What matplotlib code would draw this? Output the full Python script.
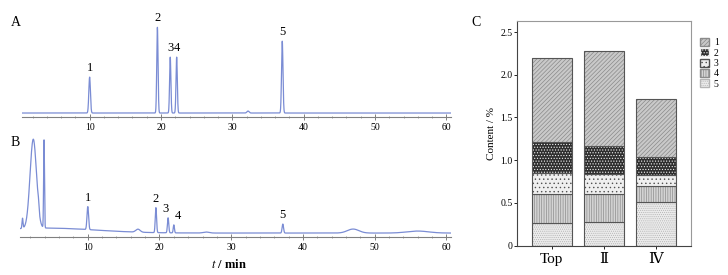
import numpy as np
import matplotlib
matplotlib.use("Agg")
import matplotlib.pyplot as plt
from matplotlib.patches import Patch

plt.rcParams["font.family"] = ["Liberation Serif", "DejaVu Serif"]
plt.rcParams["mathtext.fontset"] = "stix"
plt.rcParams["hatch.linewidth"] = 0.5

LINE = "#7a8cd4"
AXIS = "#808080"

# --- chromatogram A (standard mix): peak time (min), height, width (min)
A_TIMES = [10.0, 19.5, 21.3, 22.2, 32.2, 37.0]
A_HEIGHTS = [36, 86, 56, 56, 2, 72]
A_WIDTHS = [0.11, 0.09, 0.09, 0.09, 0.15, 0.10]
A_LABELS = ["1", "2", "3", "4", "", "5"]

# --- chromatogram B (sample)
B_TIMES = [0.9, 2.4, 3.1, 3.9, 10.0, 17.0, 19.5, 21.2, 22.0, 26.5, 37.2, 47.0, 56.0]
B_HEIGHTS = [10, 89, 6, 88, 23, 3, 25, 15, 8, 1, 9, 4, 2]
B_WIDTHS = [0.07, 0.45, 0.08, 0.06, 0.11, 0.3, 0.09, 0.09, 0.08, 0.4, 0.10, 0.8, 1.5]
B_LABELS = ["", "", "", "", "1", "", "2", "3", "4", "", "5", "", ""]
B_TAIL = (4.0, 7.0, 5.0)   # broad solvent tail: centre, width, height
B_OFFSET = 2.0

# --- panel C: content (%) of compounds 1-5 per sample
SAMPLES = ["Top", "Ⅱ", "Ⅳ"]
C5 = [0.27, 0.28, 0.51]
C4 = [0.33, 0.32, 0.19]
C3 = [0.25, 0.24, 0.13]
C2 = [0.36, 0.33, 0.21]
C1 = [0.98, 1.11, 0.68]


def trace(t, times, heights, widths):
    y = np.zeros_like(t)
    for t0, h, w in zip(times, heights, widths):
        y += h * np.exp(-0.5 * ((t - t0) / w) ** 2)
    return y


def chrom_axis(ax, ylim):
    ax.set_xlim(0.5, 60.6)
    ax.set_ylim(*ylim)
    for s in ["top", "right", "left"]:
        ax.spines[s].set_visible(False)
    ax.spines["bottom"].set_color(AXIS)
    ax.spines["bottom"].set_linewidth(0.8)
    ax.set_yticks([])
    ax.set_xticks(np.arange(10, 61, 10))
    ax.set_xticks(np.arange(2, 61, 2), minor=True)
    ax.tick_params(axis="x", which="major", direction="inout", length=4,
                   width=0.7, color=AXIS, labelsize=7, pad=2)
    ax.tick_params(axis="x", which="minor", direction="inout", length=2,
                   width=0.5, color=AXIS)


fig = plt.figure(figsize=(7.28, 2.75), dpi=100)

t = np.linspace(0.5, 60.6, 6000)

# A
axA = fig.add_axes([0.030, 0.5745, 0.589, 0.352])
yA = trace(t, A_TIMES, A_HEIGHTS, A_WIDTHS)
axA.plot(t, yA, color=LINE, lw=0.9)
chrom_axis(axA, (-4, 93))
for t0, h, lab in zip(A_TIMES, A_HEIGHTS, A_LABELS):
    if lab:
        axA.annotate(lab, (t0, h), xytext=(0, 2), textcoords="offset points",
                     ha="center", va="bottom", fontsize=9)
fig.text(0.015, 0.92, "A", fontsize=10, ha="left", va="center")

# B
axB = fig.add_axes([0.027, 0.138, 0.592, 0.36])
yB = trace(t, B_TIMES, B_HEIGHTS, B_WIDTHS)
yB += B_TAIL[2] * np.exp(-0.5 * ((t - B_TAIL[0]) / B_TAIL[1]) ** 2) + B_OFFSET
axB.plot(t, yB, color=LINE, lw=0.9)
chrom_axis(axB, (-2, 97))
label_off = {"3": (-2, 2), "4": (3, 2)}
for t0, h, lab in zip(B_TIMES, B_HEIGHTS, B_LABELS):
    if lab:
        top = h + B_OFFSET + B_TAIL[2] * np.exp(-0.5 * ((t0 - B_TAIL[0]) / B_TAIL[1]) ** 2)
        axB.annotate(lab, (t0, top), xytext=label_off.get(lab, (0, 2)),
                     textcoords="offset points", ha="center", va="bottom", fontsize=9)
fig.text(0.015, 0.48, "B", fontsize=10, ha="left", va="center")
fig.text(0.315, 0.04, r"$t$ / min", fontsize=9, ha="center", va="center",
         fontweight="bold")

# C
axC = fig.add_axes([0.710, 0.107, 0.239, 0.817])
x = np.arange(len(SAMPLES))
styles = [  # face, hatch, hatch colour
    ("#ececec", "........", "#b5b5b5"),   # 5
    ("#d4d4d4", "|||||||", "#8c8c8c"),    # 4
    ("#efefef", "....", "#505050"),       # 3
    ("#2e2e2e", "......", "#f0f0f0"),     # 2
    ("#c9c9c9", "////////", "#8a8a8a"),   # 1
]
series = [C5, C4, C3, C2, C1]
bottom = np.zeros(len(SAMPLES))
for vals, (fc, hatch, hc) in zip(series, styles):
    axC.bar(x, vals, 0.77, bottom=bottom, color=fc, hatch=hatch,
            edgecolor=hc, linewidth=0)
    axC.bar(x, vals, 0.77, bottom=bottom, fill=False, edgecolor="#555555",
            linewidth=0.8)
    bottom += np.array(vals)

axC.set_xlim(-0.67, 2.67)
axC.set_ylim(0, 2.63)
axC.set_yticks([0, 0.5, 1.0, 1.5, 2.0, 2.5])
axC.set_yticklabels(["0", "0.5", "1.0", "1.5", "2.0", "2.5"])
axC.set_xticks(x)
axC.set_xticklabels(SAMPLES, fontsize=11)
axC.tick_params(axis="y", labelsize=7, length=2, width=0.6, pad=1)
axC.tick_params(axis="x", length=2, width=0.6, pad=3)
for s in axC.spines.values():
    s.set_color("#999999")
    s.set_linewidth(0.8)
axC.spines["left"].set_color("#444444")
axC.spines["bottom"].set_color("#444444")
axC.set_ylabel("Content / %", fontsize=8, labelpad=3)
fig.text(0.647, 0.92, "C", fontsize=10, ha="left", va="center")

handles = [Patch(facecolor=fc, hatch=h, edgecolor=hc, label=str(5 - i))
           for i, (fc, h, hc) in enumerate(styles)][::-1]
fig.legend(handles=handles, loc="upper left", bbox_to_anchor=(0.955, 0.88),
           frameon=False, fontsize=7, handlelength=0.9, handleheight=0.9,
           handletextpad=0.5, labelspacing=0.1, borderpad=0)

fig.savefig("out.png", dpi=100)
